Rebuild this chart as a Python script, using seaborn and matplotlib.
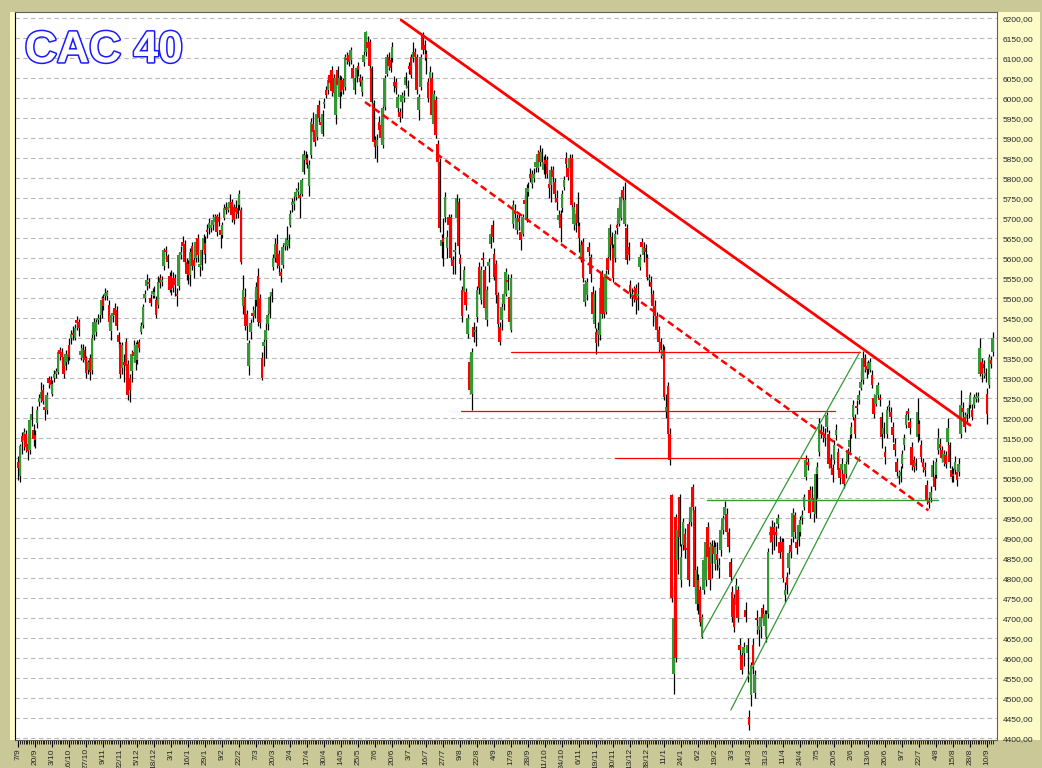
import numpy as np
import pandas as pd
import matplotlib
matplotlib.use("Agg")
import matplotlib.pyplot as plt
import matplotlib.patheffects as pe
import seaborn as sns

sns.set_theme(style="white")
plt.rcParams['font.family'] = ['Liberation Sans', 'DejaVu Sans']

# x labels, one every 9 trading sessions
date_labels = ['7/9', '20/9', '3/10', '16/10', '27/10', '9/11', '22/11', '5/12', '18/12', '3/1',
               '16/1', '29/1', '9/2', '22/2', '7/3', '20/3', '2/4', '17/4', '30/4', '14/5',
               '25/5', '7/6', '20/6', '3/7', '16/7', '27/7', '9/8', '22/8', '4/9', '17/9',
               '28/9', '11/10', '24/10', '6/11', '19/11', '30/11', '13/12', '28/12', '11/1', '24/1',
               '6/2', '19/2', '3/3', '14/3', '31/3', '11/4', '24/4', '7/5', '20/5', '2/6',
               '13/6', '26/6', '9/7', '22/7', '4/8', '15/8', '28/8', '10/9']

# daily candles (one line per stretch of ~2 months)
opens = [
    5092, 5055, 5155, 5145, 5160, 5135, 5120, 5196, 5172, 5158, 5188, 5240, 5250, 5271, 5228, 5222, 5300, 5296, 5262, 5300, 5312, 5317, 5372, 5366, 5354, 5330, 5342, 5383, 5400, 5414, 5400, 5446, 5440, 5358, 5350, 5372, 5350, 5320,
    5350, 5320, 5408, 5415, 5446, 5448, 5458, 5500, 5505, 5505, 5484, 5418, 5455, 5476, 5472, 5408, 5385, 5325, 5342, 5392, 5335, 5300, 5318, 5367, 5338, 5345, 5390, 5417, 5433, 5500, 5530, 5542, 5500, 5512, 5505, 5496, 5484, 5550, 5540, 5580, 5622, 5605, 5555,
    5555, 5550, 5550, 5512, 5530, 5608, 5642, 5637, 5592, 5587, 5558, 5630, 5596, 5600, 5650, 5578, 5583, 5620, 5638, 5670, 5675, 5676, 5683, 5692, 5705, 5704, 5672, 5658, 5700, 5728, 5722, 5725, 5742, 5729, 5729, 5725, 5733, 5721, 5480, 5504, 5460, 5330,
    5415, 5463, 5455, 5496, 5555, 5500, 5350, 5380, 5395, 5437, 5462, 5505, 5579, 5600, 5637, 5612, 5567, 5583, 5633, 5630, 5630, 5683, 5733, 5735, 5754, 5765, 5758, 5762, 5817, 5846, 5850, 5780, 5858, 5937, 5921, 5904, 5983, 5942, 5912, 5985, 6021, 6021,
    6058, 6070, 6050, 5958, 6071, 6004, 6046, 6045, 6029, 6100, 6108, 6096, 6075, 6021, 6050, 6080, 6050, 6017, 6092, 6117, 6142, 6142, 6075, 5988, 5895, 5880, 5942, 5933, 5883, 5979, 6062, 6104, 6096, 6100, 6042, 6040, 5975, 5967, 5992, 6000, 6033, 6025, 6080,
    6104, 6100, 6117, 6104, 5971, 6029, 6158, 6133, 6110, 6042, 6050, 6050, 5937, 5996, 5887, 5842, 5630, 5650, 5704, 5625, 5704, 5704, 5595, 5615, 5700, 5742, 5600, 5521, 5517, 5517, 5412, 5342, 5262, 5429, 5415, 5454, 5579, 5496, 5602, 5571, 5446, 5580, 5637, 5683,
    5612, 5587, 5508, 5429, 5446, 5487, 5512, 5546, 5504, 5421, 5687, 5721, 5671, 5700, 5667, 5662, 5746, 5696, 5765, 5812, 5787, 5802, 5829, 5825, 5867, 5842, 5821, 5846, 5846, 5785, 5783, 5821, 5790, 5752, 5696, 5712, 5725, 5779, 5850, 5825, 5825, 5850, 5687,
    5683, 5737, 5680, 5604, 5642, 5492, 5508, 5629, 5604, 5517, 5437, 5417, 5408, 5408, 5562, 5554, 5467, 5600, 5604, 5654, 5625, 5600, 5684, 5687, 5700, 5771, 5687, 5675, 5629, 5533, 5504, 5522, 5525, 5505, 5579, 5642, 5608, 5626, 5600, 5546, 5542, 5510,
    5480, 5455, 5420, 5390, 5355, 5372, 5217, 5281, 5162, 5008, 4560, 4954, 4846, 5004, 4796, 4883, 4912, 4875, 4937, 4942, 5029, 4971, 4737, 4796, 4771, 4654, 4771, 4796, 4929, 4879, 4837, 4880, 4837, 4860, 4826, 4871, 4921, 4958, 4962, 4917, 4842, 4767, 4750,
    4733, 4771, 4633, 4608, 4613, 4721, 4613, 4454, 4508, 4633, 4513, 4702, 4671, 4679, 4725, 4680, 4654, 4712, 4908, 4929, 4929, 4917, 4937, 4892, 4892, 4892, 4758, 4804, 4825, 4883, 4904, 4958, 4892, 4896, 4917, 4950, 4979, 5054, 5092, 5021, 4995, 5000,
    4962, 5062, 5117, 5171, 5167, 5158, 5179, 5162, 5100, 5075, 5096, 5158, 5117, 5075, 5071, 5062, 5062, 5092, 5129, 5162, 5204, 5200, 5232, 5246, 5275, 5296, 5350, 5330, 5323, 5321, 5308, 5250, 5237, 5258, 5250, 5204, 5162, 5117, 5162, 5228, 5217,
    5179, 5137, 5092, 5050, 5055, 5087, 5133, 5183, 5218, 5192, 5129, 5096, 5080, 5154, 5187, 5133, 5092, 5079, 5033, 4995, 5000, 5054, 5054, 5058, 5121, 5137, 5120, 5092, 5108, 5142, 5133, 5071, 5060, 5071, 5067, 5067, 5162, 5226, 5204, 5200, 5212, 5233, 5221, 5233, 5248, 5250, 5312, 5342, 5337, 5305, 5262, 5283, 5346, 5367,
]
highs = [
    5105, 5135, 5165, 5175, 5170, 5150, 5205, 5230, 5185, 5170, 5230, 5262, 5290, 5285, 5245, 5265, 5305, 5305, 5295, 5320, 5325, 5372, 5378, 5375, 5360, 5370, 5372, 5400, 5420, 5430, 5435, 5455, 5448, 5385, 5385, 5380, 5355, 5345,
    5360, 5410, 5450, 5452, 5462, 5460, 5505, 5510, 5525, 5522, 5495, 5462, 5470, 5488, 5480, 5415, 5390, 5392, 5360, 5400, 5345, 5310, 5370, 5395, 5390, 5395, 5398, 5440, 5485, 5520, 5560, 5550, 5510, 5525, 5530, 5505, 5555, 5560, 5555, 5625, 5630, 5610, 5565,
    5572, 5565, 5560, 5525, 5615, 5632, 5655, 5645, 5600, 5595, 5625, 5640, 5610, 5650, 5660, 5600, 5625, 5660, 5655, 5685, 5700, 5695, 5710, 5712, 5712, 5715, 5680, 5690, 5735, 5740, 5742, 5760, 5748, 5735, 5745, 5750, 5772, 5728, 5558, 5525, 5470, 5395,
    5448, 5480, 5520, 5540, 5575, 5510, 5365, 5400, 5440, 5470, 5515, 5525, 5610, 5650, 5660, 5620, 5575, 5635, 5645, 5680, 5660, 5720, 5750, 5755, 5775, 5790, 5770, 5800, 5870, 5868, 5860, 5845, 5950, 5965, 5935, 5975, 5995, 5955, 5970, 6000, 6030, 6055,
    6070, 6080, 6060, 6060, 6080, 6058, 6055, 6050, 6110, 6115, 6115, 6128, 6085, 6058, 6082, 6090, 6060, 6055, 6118, 6168, 6155, 6148, 6082, 5995, 5905, 5910, 5955, 5945, 5985, 6058, 6112, 6115, 6108, 6140, 6055, 6050, 6010, 5975, 6015, 6020, 6065, 6045, 6090,
    6112, 6140, 6125, 6110, 6010, 6112, 6165, 6145, 6120, 6050, 6080, 6065, 6020, 6005, 5895, 5850, 5660, 5700, 5765, 5670, 5712, 5712, 5605, 5640, 5760, 5750, 5610, 5530, 5580, 5525, 5460, 5355, 5375, 5440, 5430, 5530, 5590, 5580, 5615, 5580, 5530, 5600, 5675, 5695,
    5625, 5595, 5515, 5440, 5490, 5520, 5575, 5560, 5515, 5560, 5745, 5735, 5710, 5712, 5680, 5712, 5760, 5785, 5790, 5825, 5820, 5825, 5855, 5870, 5883, 5875, 5855, 5860, 5855, 5795, 5830, 5830, 5800, 5770, 5720, 5720, 5770, 5805, 5865, 5835, 5862, 5860, 5740,
    5720, 5765, 5690, 5645, 5650, 5545, 5550, 5640, 5612, 5530, 5520, 5425, 5440, 5535, 5570, 5562, 5570, 5610, 5685, 5665, 5635, 5670, 5695, 5735, 5765, 5780, 5792, 5685, 5640, 5545, 5525, 5530, 5535, 5540, 5612, 5650, 5640, 5635, 5610, 5560, 5555, 5520,
    5495, 5465, 5430, 5400, 5385, 5380, 5260, 5290, 5175, 5012, 4780, 4960, 4930, 5012, 4887, 4950, 4925, 4890, 4950, 4990, 5035, 4980, 4830, 4810, 4780, 4712, 4855, 4900, 4940, 4890, 4895, 4895, 4890, 4890, 4850, 4930, 4958, 4993, 4975, 4925, 4850, 4780, 4760,
    4800, 4780, 4650, 4620, 4640, 4740, 4650, 4470, 4590, 4650, 4570, 4720, 4700, 4712, 4735, 4720, 4720, 4875, 4930, 4945, 4940, 4930, 4962, 4905, 4900, 4900, 4790, 4815, 4870, 4900, 4975, 4965, 4905, 4945, 4955, 4970, 5012, 5108, 5100, 5030, 5030, 5010,
    5075, 5090, 5200, 5185, 5180, 5175, 5215, 5170, 5110, 5085, 5145, 5185, 5125, 5085, 5100, 5070, 5095, 5125, 5160, 5190, 5245, 5210, 5245, 5270, 5320, 5368, 5360, 5340, 5345, 5350, 5320, 5260, 5268, 5292, 5262, 5215, 5190, 5130, 5230, 5245, 5228,
    5190, 5150, 5100, 5070, 5080, 5120, 5160, 5218, 5225, 5200, 5140, 5105, 5100, 5250, 5195, 5145, 5100, 5090, 5045, 5005, 5030, 5095, 5065, 5100, 5175, 5150, 5130, 5120, 5118, 5200, 5140, 5080, 5075, 5105, 5075, 5100, 5271, 5240, 5215, 5225, 5240, 5265, 5235, 5260, 5265, 5265, 5400, 5350, 5345, 5325, 5275, 5360, 5355, 5417,
]
lows = [
    5045, 5040, 5112, 5120, 5115, 5095, 5110, 5180, 5130, 5125, 5175, 5230, 5240, 5235, 5195, 5210, 5275, 5270, 5255, 5290, 5300, 5310, 5345, 5340, 5300, 5320, 5335, 5345, 5385, 5395, 5395, 5420, 5405, 5345, 5340, 5335, 5300, 5310,
    5296, 5310, 5395, 5405, 5435, 5440, 5450, 5470, 5495, 5495, 5430, 5395, 5440, 5450, 5420, 5375, 5300, 5310, 5290, 5320, 5245, 5240, 5290, 5340, 5320, 5335, 5365, 5410, 5425, 5490, 5520, 5525, 5480, 5500, 5500, 5450, 5475, 5525, 5530, 5570, 5600, 5575, 5515,
    5508, 5515, 5505, 5480, 5520, 5598, 5620, 5585, 5545, 5535, 5530, 5570, 5550, 5590, 5590, 5555, 5570, 5612, 5588, 5650, 5660, 5665, 5672, 5680, 5655, 5680, 5625, 5650, 5695, 5712, 5715, 5718, 5690, 5685, 5700, 5700, 5720, 5585, 5462, 5420, 5395, 5308,
    5398, 5440, 5450, 5480, 5430, 5425, 5295, 5330, 5350, 5420, 5450, 5490, 5570, 5590, 5575, 5560, 5540, 5575, 5620, 5620, 5625, 5678, 5715, 5720, 5745, 5755, 5700, 5755, 5810, 5835, 5825, 5755, 5850, 5905, 5880, 5895, 5940, 5915, 5905, 5975, 6000, 6012,
    6025, 6005, 6000, 5935, 6025, 5975, 6005, 6010, 6020, 6085, 6080, 6085, 6040, 6010, 6040, 6055, 6030, 6005, 6080, 6105, 6115, 6070, 5985, 5880, 5850, 5842, 5910, 5890, 5875, 5970, 6055, 6070, 6065, 6090, 6015, 6010, 5965, 5940, 5950, 5990, 6025, 6005, 6060,
    6050, 6090, 6080, 6010, 5945, 6020, 6110, 6095, 6060, 5990, 6040, 5950, 5930, 5900, 5830, 5665, 5600, 5580, 5690, 5600, 5670, 5590, 5560, 5560, 5690, 5610, 5545, 5440, 5510, 5470, 5400, 5260, 5221, 5390, 5380, 5440, 5510, 5485, 5580, 5465, 5430, 5540, 5625, 5640,
    5545, 5488, 5425, 5383, 5420, 5470, 5505, 5520, 5430, 5415, 5675, 5690, 5660, 5670, 5620, 5655, 5720, 5690, 5755, 5790, 5775, 5790, 5815, 5815, 5830, 5830, 5810, 5800, 5800, 5750, 5740, 5770, 5740, 5720, 5685, 5640, 5715, 5770, 5825, 5795, 5815, 5720, 5670,
    5665, 5680, 5615, 5590, 5540, 5480, 5495, 5605, 5540, 5450, 5425, 5362, 5380, 5395, 5450, 5450, 5460, 5560, 5595, 5620, 5540, 5590, 5660, 5680, 5695, 5740, 5680, 5585, 5595, 5500, 5480, 5490, 5460, 5470, 5570, 5615, 5590, 5580, 5545, 5530, 5490, 5430,
    5440, 5400, 5365, 5350, 5345, 5245, 5200, 5150, 5083, 4740, 4512, 4590, 4810, 4880, 4779, 4870, 4850, 4850, 4780, 4930, 4965, 4760, 4720, 4710, 4680, 4650, 4760, 4780, 4820, 4770, 4800, 4840, 4820, 4820, 4800, 4855, 4910, 4945, 4905, 4865, 4790, 4690, 4665,
    4720, 4690, 4600, 4560, 4580, 4690, 4540, 4421, 4480, 4560, 4500, 4660, 4630, 4650, 4690, 4660, 4640, 4700, 4890, 4860, 4870, 4880, 4925, 4850, 4850, 4790, 4740, 4760, 4810, 4850, 4890, 4900, 4860, 4880, 4905, 4935, 4970, 5045, 5070, 4950, 4980, 4940,
    4950, 5000, 5105, 5150, 5140, 5130, 5165, 5075, 5060, 5040, 5085, 5145, 5060, 5035, 5060, 5025, 5050, 5085, 5115, 5150, 5195, 5150, 5210, 5235, 5270, 5285, 5315, 5300, 5310, 5315, 5275, 5200, 5230, 5250, 5230, 5125, 5150, 5085, 5150, 5215, 5190,
    5140, 5105, 5055, 5035, 5040, 5075, 5120, 5175, 5195, 5160, 5070, 5065, 5070, 5140, 5145, 5090, 5065, 5055, 4985, 4975, 4990, 5045, 5020, 5050, 5110, 5110, 5090, 5080, 5075, 5130, 5075, 5040, 5040, 5060, 5030, 5055, 5150, 5200, 5165, 5190, 5200, 5225, 5195, 5225, 5240, 5240, 5305, 5290, 5300, 5290, 5187, 5275, 5325, 5355,
]
closes = [
    5075, 5130, 5140, 5165, 5128, 5118, 5195, 5210, 5148, 5145, 5220, 5252, 5266, 5243, 5222, 5258, 5288, 5284, 5287, 5312, 5318, 5366, 5360, 5354, 5310, 5362, 5362, 5354, 5412, 5408, 5425, 5438, 5426, 5368, 5375, 5346, 5313, 5340,
    5317, 5400, 5442, 5440, 5451, 5452, 5496, 5480, 5513, 5515, 5442, 5458, 5463, 5458, 5430, 5392, 5312, 5383, 5334, 5330, 5258, 5272, 5362, 5355, 5383, 5385, 5375, 5430, 5479, 5512, 5546, 5536, 5488, 5518, 5515, 5458, 5542, 5538, 5546, 5620, 5615, 5590, 5522,
    5522, 5525, 5534, 5506, 5608, 5617, 5632, 5592, 5562, 5558, 5617, 5580, 5580, 5642, 5608, 5585, 5620, 5650, 5612, 5665, 5688, 5684, 5696, 5704, 5667, 5692, 5658, 5683, 5727, 5722, 5728, 5742, 5708, 5696, 5717, 5712, 5762, 5592, 5520, 5430, 5430, 5388,
    5438, 5457, 5470, 5529, 5440, 5438, 5300, 5392, 5420, 5458, 5504, 5515, 5600, 5637, 5588, 5580, 5555, 5629, 5638, 5650, 5646, 5712, 5742, 5743, 5767, 5770, 5750, 5796, 5862, 5858, 5838, 5833, 5942, 5917, 5892, 5962, 5950, 5933, 5962, 5992, 6008, 6046,
    6038, 6018, 6013, 6050, 6033, 6050, 6017, 6020, 6104, 6096, 6092, 6121, 6050, 6050, 6075, 6071, 6042, 6046, 6108, 6165, 6125, 6080, 5992, 5892, 5880, 5895, 5921, 5900, 5975, 6050, 6104, 6080, 6075, 6129, 6030, 6025, 6004, 5954, 6008, 6005, 6054, 6030, 6073,
    6058, 6117, 6104, 6021, 6004, 6104, 6121, 6121, 6100, 6000, 6067, 5958, 6012, 5908, 5842, 5675, 5646, 5640, 5754, 5654, 5683, 5600, 5580, 5622, 5750, 5630, 5585, 5455, 5571, 5483, 5450, 5271, 5367, 5404, 5422, 5521, 5525, 5571, 5596, 5475, 5521, 5592, 5662, 5654,
    5554, 5508, 5437, 5392, 5479, 5512, 5567, 5540, 5442, 5550, 5733, 5712, 5700, 5690, 5646, 5704, 5737, 5775, 5775, 5800, 5812, 5812, 5842, 5862, 5842, 5867, 5842, 5837, 5812, 5775, 5821, 5804, 5760, 5742, 5708, 5675, 5762, 5796, 5837, 5804, 5850, 5733, 5729,
    5712, 5688, 5650, 5633, 5550, 5537, 5542, 5617, 5562, 5462, 5512, 5388, 5421, 5525, 5462, 5462, 5562, 5571, 5675, 5633, 5550, 5662, 5675, 5725, 5754, 5750, 5746, 5596, 5608, 5517, 5512, 5516, 5496, 5510, 5604, 5629, 5629, 5617, 5554, 5550, 5529, 5480,
    5455, 5420, 5390, 5372, 5372, 5254, 5229, 5162, 5096, 4750, 4700, 4600, 4921, 4904, 4854, 4942, 4871, 4870, 4796, 4979, 4979, 4779, 4821, 4737, 4692, 4704, 4846, 4892, 4854, 4796, 4887, 4862, 4879, 4845, 4834, 4921, 4950, 4979, 4917, 4879, 4804, 4704, 4679,
    4783, 4700, 4621, 4571, 4629, 4704, 4633, 4433, 4583, 4583, 4558, 4696, 4680, 4704, 4700, 4712, 4712, 4867, 4917, 4892, 4908, 4908, 4950, 4863, 4867, 4800, 4771, 4783, 4863, 4867, 4963, 4917, 4875, 4933, 4946, 4958, 5004, 5096, 5083, 4963, 5000, 4965,
    5062, 5079, 5187, 5162, 5158, 5150, 5208, 5087, 5075, 5058, 5133, 5171, 5071, 5050, 5087, 5037, 5087, 5117, 5146, 5179, 5233, 5162, 5226, 5258, 5290, 5350, 5329, 5321, 5339, 5342, 5283, 5212, 5258, 5283, 5245, 5154, 5175, 5104, 5221, 5234, 5204,
    5158, 5121, 5067, 5055, 5065, 5112, 5150, 5208, 5212, 5175, 5083, 5079, 5088, 5217, 5162, 5104, 5079, 5071, 4996, 4988, 5017, 5083, 5029, 5092, 5150, 5125, 5100, 5112, 5087, 5175, 5092, 5054, 5055, 5092, 5046, 5087, 5233, 5217, 5179, 5208, 5225, 5258, 5204, 5254, 5254, 5255, 5375, 5312, 5325, 5313, 5212, 5354, 5337, 5400,
]

# hand-drawn trend lines: (session index, level)
resistance_x = [202.8, 504.0]
resistance_y = [6196, 5183]
mid_trend_x = [183.7, 482.0]
mid_trend_y = [5991, 4970]
support_levels = [5366, 5218, 5100]
support_spans = [(260.8, 445.7), (234.5, 432.5), (316.0, 417.6)]
green_level = 4996
green_span = (364.7, 486.9)
channel_top_x = [361.9, 445.7]
channel_top_y = [4658, 5366]
channel_bot_x = [377.4, 445.7]
channel_bot_y = [4471, 5104]

n = min(len(opens), len(highs), len(lows), len(closes))
df = pd.DataFrame({'open': opens[:n], 'high': highs[:n], 'low': lows[:n], 'close': closes[:n]})
df['idx'] = np.arange(n)
df['up'] = df['close'] >= df['open']

W, H = 1042, 768
fig = plt.figure(figsize=(W / 100, H / 100), dpi=100)
fig.patch.set_facecolor('#cbc898')
# pale strips left of the plot and under the y labels
fig.add_artist(plt.Rectangle((10 / W, 28 / H), 5 / W, 728 / H, transform=fig.transFigure,
                             facecolor='#fdfbc8', edgecolor='none', zorder=0))
fig.add_artist(plt.Rectangle((998 / W, 28 / H), 42 / W, 728 / H, transform=fig.transFigure,
                             facecolor='#fdfbc8', edgecolor='none', zorder=0))

ax = fig.add_axes([15 / W, 28 / H, 982 / W, 728 / H])
ax.set_facecolor('white')

# grid
for lvl in np.arange(4400, 6201, 50):
    ax.axhline(lvl, color='#b8b8b8', lw=0.8, ls=(0, (4, 3)), zorder=1)

# candles
ax.vlines(df['idx'] + 0.25, df['low'], df['high'], color='black', lw=0.9, zorder=2)
body_lo = np.minimum(df['open'], df['close'])
body_h = np.maximum((df['close'] - df['open']).abs(), 4)
colors = np.where(df['up'], '#339933', '#ff0000')
ax.bar(df['idx'], body_h, bottom=body_lo, width=1.25, color=colors, linewidth=0, zorder=3)

# trend lines
sns.lineplot(x=resistance_x, y=resistance_y, ax=ax, color='#ff0000', lw=2, zorder=4)
sns.lineplot(x=mid_trend_x, y=mid_trend_y, ax=ax, color='#ff0000', lw=1.8, ls=(0, (2.8, 1.6)), zorder=4)
for lvl, (x0, x1) in zip(support_levels, support_spans):
    sns.lineplot(x=[x0, x1], y=[lvl, lvl], ax=ax, color='#ff0000', lw=0.9, zorder=4)
sns.lineplot(x=list(green_span), y=[green_level, green_level], ax=ax, color='#339933', lw=1.0, zorder=4)
sns.lineplot(x=channel_top_x, y=channel_top_y, ax=ax, color='#339933', lw=0.9, zorder=4)
sns.lineplot(x=channel_bot_x, y=channel_bot_y, ax=ax, color='#339933', lw=0.9, zorder=4)

ax.set_xlim(-1.6, 518.3)
ax.set_ylim(4396, 6216)

# axes styling
ax.yaxis.tick_right()
ax.set_yticks(np.arange(4400, 6201, 50))
ax.set_yticklabels([f"{v:.2f}".replace('.', ',') for v in np.arange(4400, 6201, 50)], fontsize=6)
ax.set_xticks(np.arange(len(date_labels)) * 9)
ax.set_xticklabels(date_labels, rotation=90, fontsize=6)
ax.set_xticks(np.arange(0, n), minor=True)
ax.tick_params(axis='x', which='major', length=5, width=0.8, color='black', pad=1, bottom=True)
ax.tick_params(axis='x', which='minor', length=3, width=0.6, color='black', bottom=True)
ax.tick_params(axis='y', which='major', length=0, pad=4, right=True)
for s in ax.spines.values():
    s.set_color('#606060')
    s.set_linewidth(0.8)
ax.spines['left'].set_color('black')
ax.set_xlabel('')
ax.set_ylabel('')

ax.text(0.010, 0.975, 'CAC 40', transform=ax.transAxes, fontsize=32, fontweight='bold',
        color='white', va='top', ha='left',
        path_effects=[pe.withStroke(linewidth=2.2, foreground='#1a1aff')])

fig.savefig('out.png', dpi=100, facecolor=fig.get_facecolor())
